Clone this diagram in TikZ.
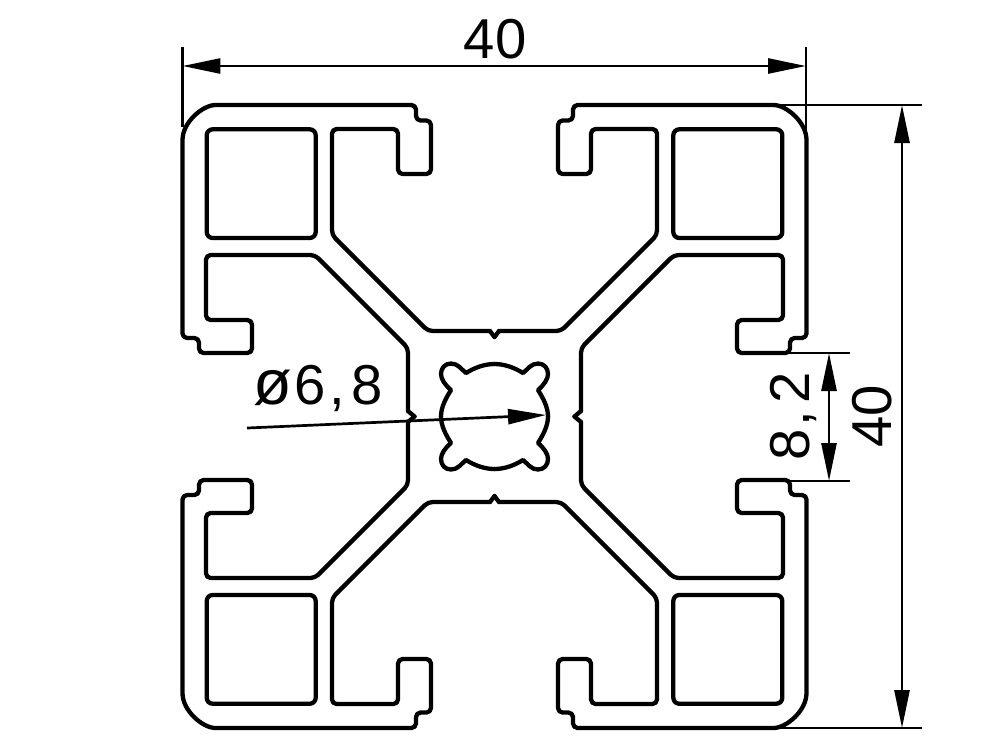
\documentclass[tikz,border=0pt]{standalone}
\usepackage{fontspec}
\setmainfont{Liberation Sans}
\usetikzlibrary{arrows.meta}
\tikzset{
	profile/.style={line width=0.43mm, line cap=round, line join=round},
	dimline/.style={line width=0.27mm, {Triangle[length=3.8mm,width=1.5mm]}-{Triangle[length=3.8mm,width=1.5mm]}},
	extline/.style={line width=0.27mm},
	leaderline/.style={line width=0.27mm, -{Triangle[length=3.8mm,width=1.5mm]}},
	dimtext/.style={inner sep=0pt, font=\fontsize{16}{16}\selectfont}
}
\def\profilequarter{
	\draw[profile, rounded corners=1.3pt] (-0.045, 0.855) -- (-0.665, 0.855) -- (-1.625, 1.815) -- (-1.625, 2.875) -- (-0.965, 2.875) -- (-0.965, 2.425) -- (-0.635, 2.425) -- (-0.635, 2.96) -- (-0.785, 2.96) -- (-0.785, 3.115) -- (-2.745, 3.115) [sharp corners] .. controls (-2.915, 3.115) and (-3.12, 2.945) .. (-3.12, 2.765) [rounded corners=1.3pt] -- (-3.12, 0.785) -- (-2.955, 0.785) -- (-2.955, 0.635) -- (-2.425, 0.635) -- (-2.425, 0.965) -- (-2.885, 0.965) -- (-2.885, 1.615) -- (-1.795, 1.615) -- (-0.865, 0.685) -- (-0.865, 0.055);
	\draw[profile] (0, 0.795) -- (-0.045, 0.855);
	\draw[profile] (-0.8, 0) -- (-0.865, 0.055);
	\draw[profile, rounded corners=1.7pt] (-2.878, 2.872) rectangle (-1.788, 1.785);
	\draw[profile] (0, 0.525) .. controls (-0.105, 0.525) and (-0.205, 0.485) .. (-0.285, 0.435) .. controls (-0.335, 0.475) and (-0.365, 0.53) .. (-0.435, 0.53) .. controls (-0.495, 0.53) and (-0.535, 0.485) .. (-0.535, 0.425) .. controls (-0.535, 0.375) and (-0.495, 0.315) .. (-0.435, 0.265) .. controls (-0.485, 0.185) and (-0.535, 0.095) .. (-0.535, 0);
}
\begin{document}
\begin{tikzpicture}
	%%%%% START %%%%%
	\useasboundingbox (-4.945, -3.335) rectangle (5.055, 4.165);

	\profilequarter
	\begin{scope}[xscale=-1]
		\profilequarter
	\end{scope}
	\begin{scope}[yscale=-1]
		\profilequarter
	\end{scope}
	\begin{scope}[xscale=-1, yscale=-1]
		\profilequarter
	\end{scope}

	%%%%% width 40 %%%%%
	\coordinate (widthExtLeftTop) at (-3.12, 3.695);
	\coordinate (widthExtLeftEnd) at (-3.12, 2.9);
	\coordinate (widthExtRightTop) at (3.115, 3.695);
	\coordinate (widthExtRightEnd) at (3.115, 2.85);
	\coordinate (widthLeft) at (-3.12, 3.505);
	\coordinate (widthRight) at (3.115, 3.505);
	\draw[extline] (widthExtLeftTop) -- (widthExtLeftEnd);
	\draw[extline] (widthExtRightTop) -- (widthExtRightEnd);
	\draw[dimline] (widthLeft) -- (widthRight);
	\node[dimtext] (widthText) at (0.005, 3.775) {40};

	%%%%% height 40 %%%%%
	\coordinate (heightExtTopStart) at (2.8, 3.115);
	\coordinate (heightExtTopEnd) at (4.27, 3.115);
	\coordinate (heightExtBotStart) at (2.8, -3.115);
	\coordinate (heightExtBotEnd) at (4.27, -3.115);
	\coordinate (heightTop) at (4.075, 3.115);
	\coordinate (heightBot) at (4.075, -3.115);
	\draw[extline] (heightExtTopStart) -- (heightExtTopEnd);
	\draw[extline] (heightExtBotStart) -- (heightExtBotEnd);
	\draw[dimline] (heightTop) -- (heightBot);
	\node[dimtext, rotate=90] (heightText) at (3.775, 0) {40};

	%%%%% slot 8,2 %%%%%
	\coordinate (slotExtTopStart) at (2.935, 0.635);
	\coordinate (slotExtTopEnd) at (3.555, 0.635);
	\coordinate (slotExtBotStart) at (2.935, -0.645);
	\coordinate (slotExtBotEnd) at (3.555, -0.645);
	\coordinate (slotTop) at (3.345, 0.635);
	\coordinate (slotBot) at (3.345, -0.645);
	\draw[extline] (slotExtTopStart) -- (slotExtTopEnd);
	\draw[extline] (slotExtBotStart) -- (slotExtBotEnd);
	\draw[dimline] (slotTop) -- (slotBot);
	\node[dimtext, rotate=90] (slotText) at (2.99, 0) {8\kern0.8pt,\kern2pt 2};

	%%%%% bore 6,8 %%%%%
	\coordinate (boreStart) at (-2.475, -0.115);
	\coordinate (boreTip) at (0.515, 0.015);
	\draw[leaderline] (boreStart) -- (boreTip);
	\node[dimtext] (boreText) at (-1.76, 0.285) {{\fontsize{18}{18}\selectfont ø}\kern0.5pt 6\kern1pt,\kern2pt 8};
	%%%%% END %%%%%
\end{tikzpicture}
\end{document}
